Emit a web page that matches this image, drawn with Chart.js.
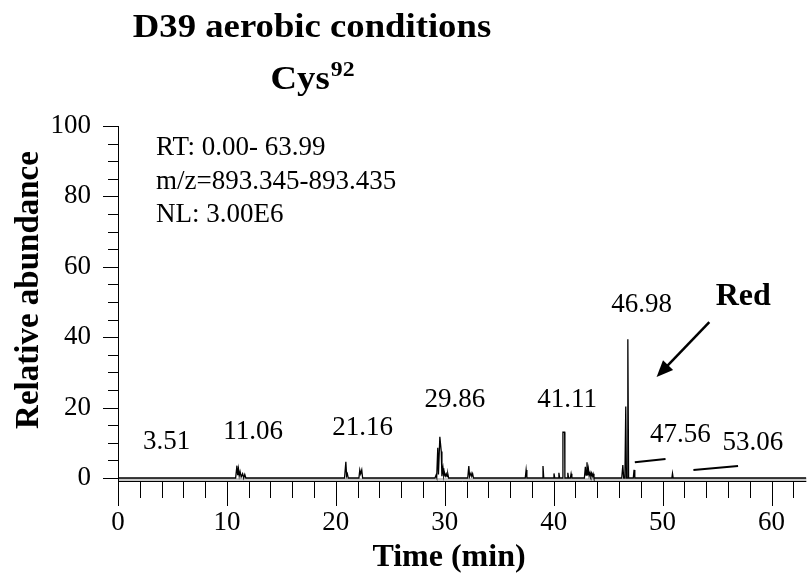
<!DOCTYPE html>
<html>
<head>
<meta charset="utf-8">
<script src="https://cdn.jsdelivr.net/npm/chart.js@4"></script>
<style>
  body { margin: 0; background: #fff; }
  canvas { display: block; }
</style>
</head>
<body>
<canvas id="grafico" width="811" height="588"></canvas>
<script>
// Traço do cromatograma (tempo em min, abundância relativa em %)
const rt = [
    0,
    10.8, 10.92, 10.99, 11.06, 11.13, 11.21, 11.31, 11.44, 11.54, 11.64, 11.74,
    20.8, 20.92, 20.99, 21.06, 21.14,
    22.12, 22.2, 22.28, 22.38, 22.46,
    29.1, 29.2, 29.26, 29.36, 29.42, 29.55, 29.68, 29.74, 29.84, 29.91, 29.98, 30.06, 30.14, 30.21, 30.28, 30.36,
    32.11, 32.21, 32.28, 32.41, 32.48, 32.56, 32.64,
    37.39, 37.47, 37.54,
    38.93, 39.02, 39.09,
    39.96, 40.03, 40.1,
    40.41, 40.48, 40.55,
    40.83, 40.85, 41.01, 41.03,
    41.23, 41.3, 41.37,
    41.53, 41.6, 41.67,
    42.82, 42.91, 42.98, 43.06, 43.13, 43.19, 43.26, 43.34, 43.41, 43.48, 43.55, 43.62, 43.7,
    46.25, 46.35, 46.43, 46.54, 46.62, 46.68, 46.74, 46.81, 46.88,
    47.31, 47.38, 47.45,
    50.85, 50.91, 50.97,
    63.2
];
const abundance = [
    0,
    0, 3.5, 0.8, 2.6, 0.6, 1.8, 0.3, 1.2, 0, 1.0, 0,
    0, 4.6, 0.6, 1.2, 0,
    0, 2.3, 1.2, 2.3, 0,
    0, 0.8, 0.2, 8.6, 1.0, 11.7, 7.5, 0.5, 2.8, 0.6, 1.5, 0.6, 1.2, 0.4, 1.2, 0,
    0, 3.4, 0.4, 1.4, 0.5, 1.2, 0,
    0, 2.3, 0,
    0, 3.4, 0,
    0, 1.3, 0,
    0, 1.5, 0,
    0, 13.0, 13.0, 0,
    0, 1.5, 0,
    0, 1.2, 0,
    0, 3.2, 0.8, 4.5, 0.8, 2.5, 0.6, 1.5, 0.6, 1.4, 0.5, 1.2, 0,
    0, 3.7, 0, 0, 20.3, 0, 0, 39.4, 0,
    0, 2.3, 0,
    0, 1.3, 0,
    0
];

// Rótulos dos picos: [texto, tempo, abundância]
const rotulosPicos = [
    ['3.51', 4.47, 10.2],
    ['11.06', 12.4, 13.1],
    ['21.16', 22.45, 14.2],
    ['29.86', 30.93, 22.2],
    ['41.11', 41.24, 22.2],
    ['46.98', 48.08, 49.1],
    ['47.56', 51.64, 12.2],
    ['53.06', 58.3, 9.9]
];

const ticksX = [0, 10, 20, 30, 40, 50, 60];
const ticksY = [0, 20, 40, 60, 80, 100];

const serif = '"Liberation Serif", "Times New Roman", serif';

// faixa cinza entre a linha de base e o eixo
const faixaBase = {
    id: 'faixaBase',
    beforeDatasetsDraw(chart) {
        const ctx = chart.ctx;
        const area = chart.chartArea;
        const y0 = chart.scales.y.getPixelForValue(0);
        ctx.save();
        ctx.fillStyle = '#c8c8c8';
        ctx.fillRect(area.left, y0, area.right - area.left, area.bottom - y0);
        ctx.restore();
    }
};

const extras = {
    id: 'extras',
    afterDraw(chart) {
        const ctx = chart.ctx;
        const x = chart.scales.x;
        const y = chart.scales.y;
        const area = chart.chartArea;
        ctx.save();
        ctx.strokeStyle = '#000';
        ctx.fillStyle = '#000';

        // eixos
        ctx.lineWidth = 1;
        ctx.beginPath();
        ctx.moveTo(area.left + 0.5, area.top);
        ctx.lineTo(area.left + 0.5, area.bottom);
        ctx.moveTo(area.left, area.bottom + 0.5);
        ctx.lineTo(area.right, area.bottom + 0.5);
        ctx.stroke();

        // marcas do eixo x
        ctx.beginPath();
        for (let t = 0; t <= 62; t += 2) {
            const px = Math.round(x.getPixelForValue(t)) + 0.5;
            const len = t % 10 === 0 ? 25 : 17;
            ctx.moveTo(px, area.bottom);
            ctx.lineTo(px, area.bottom + len);
        }
        // marcas do eixo y
        for (let v = 0; v <= 100; v += 5) {
            const py = Math.round(y.getPixelForValue(v)) + 0.5;
            const len = v % 20 === 0 ? 15 : 10;
            ctx.moveTo(area.left, py);
            ctx.lineTo(area.left - len, py);
        }
        ctx.stroke();

        // rótulos dos picos
        ctx.font = '27px ' + serif;
        ctx.textAlign = 'center';
        ctx.textBaseline = 'middle';
        rotulosPicos.forEach(r => {
            ctx.fillText(r[0], x.getPixelForValue(r[1]), y.getPixelForValue(r[2]));
        });

        // informações da corrida
        ctx.textAlign = 'left';
        ctx.fillText('RT: 0.00- 63.99', 156, 148);
        ctx.fillText('m/z=893.345-893.435', 156, 182);
        ctx.fillText('NL: 3.00E6', 156, 215);

        // linhas de indicação
        ctx.lineWidth = 2;
        ctx.beginPath();
        ctx.moveTo(x.getPixelForValue(47.45), y.getPixelForValue(4.5));
        ctx.lineTo(x.getPixelForValue(50.27), y.getPixelForValue(5.4));
        ctx.moveTo(x.getPixelForValue(52.83), y.getPixelForValue(2.3));
        ctx.lineTo(x.getPixelForValue(56.93), y.getPixelForValue(3.4));
        ctx.stroke();

        // seta "Red"
        const ax0 = x.getPixelForValue(54.29), ay0 = y.getPixelForValue(44.3);
        const ax1 = x.getPixelForValue(49.45), ay1 = y.getPixelForValue(28.7);
        const ang = Math.atan2(ay1 - ay0, ax1 - ax0);
        ctx.lineWidth = 2.5;
        ctx.beginPath();
        ctx.moveTo(ax0, ay0);
        ctx.lineTo(ax1 - 12 * Math.cos(ang), ay1 - 12 * Math.sin(ang));
        ctx.stroke();
        ctx.beginPath();
        ctx.moveTo(ax1, ay1);
        ctx.lineTo(ax1 - 18 * Math.cos(ang - 0.4), ay1 - 18 * Math.sin(ang - 0.4));
        ctx.lineTo(ax1 - 18 * Math.cos(ang + 0.4), ay1 - 18 * Math.sin(ang + 0.4));
        ctx.closePath();
        ctx.fill();

        ctx.font = 'bold 32px ' + serif;
        ctx.textAlign = 'center';
        ctx.fillText('Red', x.getPixelForValue(57.4), y.getPixelForValue(51.4));

        // títulos dos eixos
        ctx.font = 'bold 32px ' + serif;
        ctx.fillText('Time (min)', 449, 558);
        ctx.save();
        ctx.translate(29, 290);
        ctx.rotate(-Math.PI / 2);
        ctx.font = 'bold 33px ' + serif;
        ctx.fillText('Relative abundance', 0, 0);
        ctx.restore();

        // título (levemente alargado como no original)
        ctx.save();
        ctx.translate(312, 0);
        ctx.scale(1.08, 1);
        ctx.font = 'bold 34px ' + serif;
        ctx.fillText('D39 aerobic conditions', 0, 28);
        const wCys = ctx.measureText('Cys').width;
        ctx.font = 'bold 22px ' + serif;
        const wSup = ctx.measureText('92').width;
        const x0 = -(wCys + wSup) / 2;
        ctx.textAlign = 'left';
        ctx.fillText('92', x0 + wCys + 1, 70);
        ctx.font = 'bold 34px ' + serif;
        ctx.fillText('Cys', x0, 80);
        ctx.restore();

        ctx.restore();
    }
};

new Chart(document.getElementById('grafico'), {
    type: 'line',
    data: {
        datasets: [{
            data: rt.map((t, i) => ({ x: t, y: abundance[i] })),
            borderColor: '#000',
            borderWidth: 1.3,
            pointRadius: 0,
            tension: 0,
            fill: false
        }]
    },
    options: {
        responsive: false,
        animation: false,
        parsing: false,
        layout: { padding: { top: 126, left: 0, right: 0, bottom: 0 } },
        plugins: { legend: { display: false }, tooltip: { enabled: false } },
        scales: {
            x: {
                type: 'linear',
                min: 0,
                max: 63.2,
                border: { display: false },
                grid: { display: false, drawTicks: false },
                afterBuildTicks: s => { s.ticks = ticksX.map(v => ({ value: v })); },
                afterFit: s => { s.height = 107; },
                ticks: { color: '#000', font: { family: serif, size: 27 }, padding: 26, maxRotation: 0 }
            },
            y: {
                min: -0.85,
                max: 100,
                border: { display: false },
                grid: { display: false, drawTicks: false },
                afterBuildTicks: s => { s.ticks = ticksY.map(v => ({ value: v })); },
                afterFit: s => { s.width = 118; },
                ticks: { color: '#000', font: { family: serif, size: 27 }, padding: 27 }
            }
        }
    },
    plugins: [faixaBase, extras]
});
</script>
</body>
</html>
